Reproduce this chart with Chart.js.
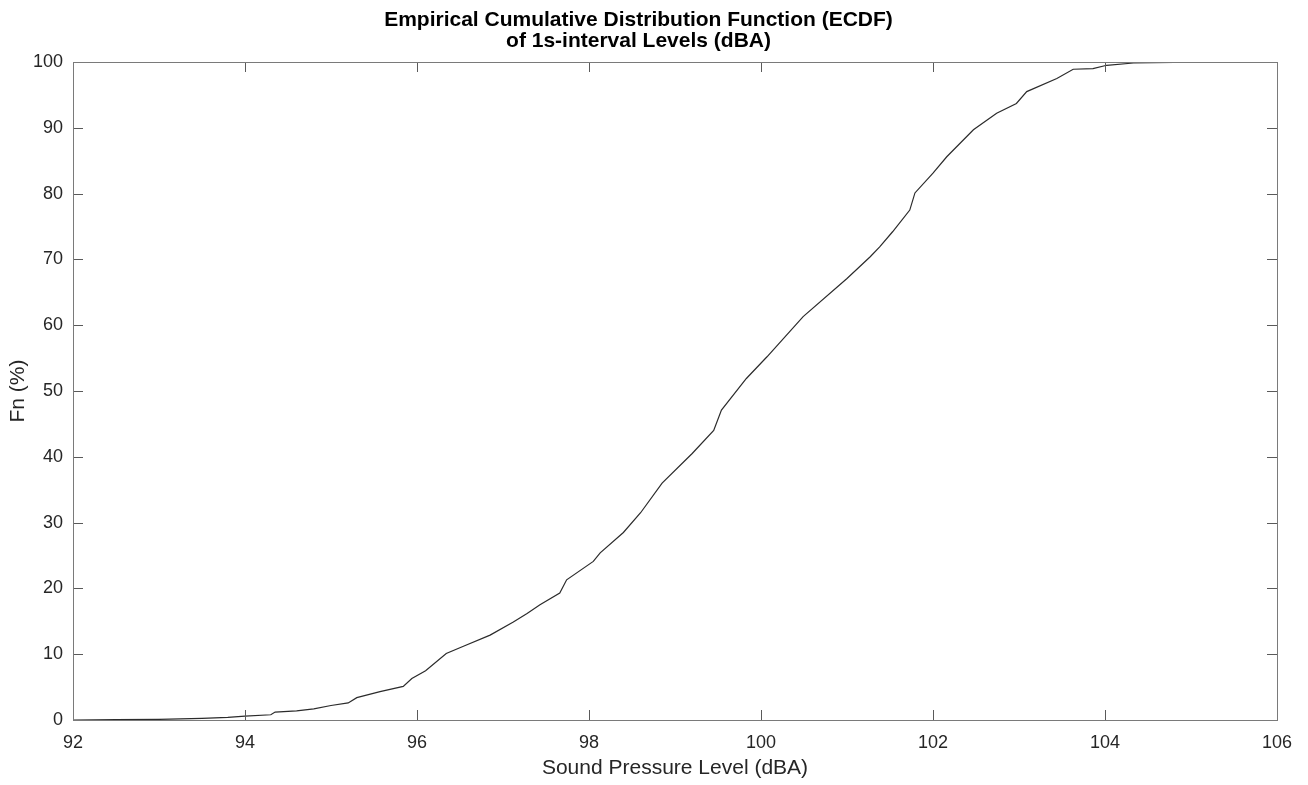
<!DOCTYPE html>
<html>
<head>
<meta charset="utf-8">
<script src="https://cdn.jsdelivr.net/npm/chart.js"></script>
<style>
  html, body { margin: 0; padding: 0; background: #fff; }
  #wrap { width: 1308px; height: 785px; }
</style>
</head>
<body>
<div id="wrap"><canvas id="ecdf"></canvas></div>
<script>
// sound level (dBA) vs cumulative share (%)
const levels = [
  92.0, 92.5, 93.0, 93.5, 93.8, 94.0, 94.3, 94.35, 94.6, 94.8,
  95.0, 95.2, 95.3, 95.57, 95.84, 95.94, 96.1, 96.34, 96.54, 96.85,
  97.12, 97.28, 97.43, 97.66, 97.74, 98.05, 98.13, 98.4, 98.6, 98.85,
  99.2, 99.45, 99.54, 99.83, 100.07, 100.49, 101.0, 101.27, 101.38, 101.53,
  101.73, 101.79, 102.0, 102.16, 102.47, 102.74, 102.97, 103.09, 103.44, 103.63,
  103.86, 104.02, 104.33, 104.8, 105.22
];
const fn = [
  0, 0.05, 0.1, 0.25, 0.4, 0.6, 0.8, 1.2, 1.4, 1.7,
  2.2, 2.6, 3.4, 4.3, 5.1, 6.3, 7.5, 10.1, 11.2, 12.9,
  14.9, 16.2, 17.5, 19.3, 21.3, 24.1, 25.4, 28.5, 31.5, 36.0,
  40.5, 44, 47.1, 51.9, 55.2, 61.3, 67.1, 70.4, 71.9, 74.2,
  77.5, 80.1, 83.1, 85.6, 89.7, 92.2, 93.7, 95.5, 97.5, 98.9,
  99.0, 99.5, 99.85, 99.95, 100
];

const xTicks = [92, 94, 96, 98, 100, 102, 104, 106];
const yTicks = [0, 10, 20, 30, 40, 50, 60, 70, 80, 90, 100];

const points = levels.map((x, i) => ({ x: x, y: fn[i] }));
const FONT = 'Liberation Sans, Arial, Helvetica, sans-serif';

// box around the plot with inward ticks on every side
const boxTicks = {
  id: 'boxTicks',
  afterDraw(chart) {
    const { ctx, chartArea: a, scales } = chart;
    const len = 10;
    ctx.save();
    ctx.strokeStyle = '#5a5a5a';
    ctx.lineWidth = 1;
    ctx.beginPath();
    xTicks.forEach(v => {
      const px = Math.round(scales.x.getPixelForValue(v)) + 0.5;
      ctx.moveTo(px, a.bottom); ctx.lineTo(px, a.bottom - len);
      ctx.moveTo(px, a.top); ctx.lineTo(px, a.top + len);
    });
    yTicks.forEach(v => {
      const py = Math.round(scales.y.getPixelForValue(v)) + 0.5;
      ctx.moveTo(a.left, py); ctx.lineTo(a.left + len, py);
      ctx.moveTo(a.right, py); ctx.lineTo(a.right - len, py);
    });
    ctx.stroke();
    ctx.strokeStyle = '#7a7a7a';
    ctx.strokeRect(Math.round(a.left) + 0.5, Math.round(a.top) + 0.5,
      Math.round(a.right - a.left), Math.round(a.bottom - a.top));
    ctx.restore();
  }
};

new Chart(document.getElementById('ecdf'), {
  type: 'scatter',
  data: {
    datasets: [{
      data: points,
      showLine: true,
      borderColor: '#2b2b2b',
      borderWidth: 1.2,
      pointRadius: 0,
      tension: 0
    }]
  },
  options: {
    responsive: true,
    maintainAspectRatio: false,
    animation: false,
    layout: { padding: { left: 0, right: 31, top: 0, bottom: 0 } },
    plugins: {
      legend: { display: false },
      tooltip: { enabled: false },
      title: {
        display: true,
        text: ['Empirical Cumulative Distribution Function (ECDF)', 'of 1s-interval Levels (dBA)'],
        color: '#000',
        font: { family: FONT, size: 21, weight: 'bold', lineHeight: 1.0 },
        padding: { top: 10, bottom: 10 }
      }
    },
    scales: {
      x: {
        type: 'linear',
        min: 92,
        max: 106,
        afterBuildTicks: s => { s.ticks = xTicks.map(v => ({ value: v })); },
        afterFit: s => { s.height = 65; },
        grid: { display: false, drawTicks: false },
        border: { display: false },
        ticks: { color: '#262626', padding: 12, font: { family: FONT, size: 18 } },
        title: {
          display: true,
          text: 'Sound Pressure Level (dBA)',
          color: '#262626',
          font: { family: FONT, size: 21 },
          padding: { top: 4, bottom: 4 }
        }
      },
      y: {
        min: 0,
        max: 100,
        afterBuildTicks: s => { s.ticks = yTicks.map(v => ({ value: v })); },
        afterFit: s => { s.width = 73; },
        grid: { display: false, drawTicks: false },
        border: { display: false },
        ticks: { color: '#262626', padding: 10, font: { family: FONT, size: 18 } },
        title: {
          display: true,
          text: 'Fn (%)',
          color: '#262626',
          font: { family: FONT, size: 21 },
          padding: { top: 6, bottom: 4 }
        }
      }
    }
  },
  plugins: [boxTicks]
});
</script>
</body>
</html>
